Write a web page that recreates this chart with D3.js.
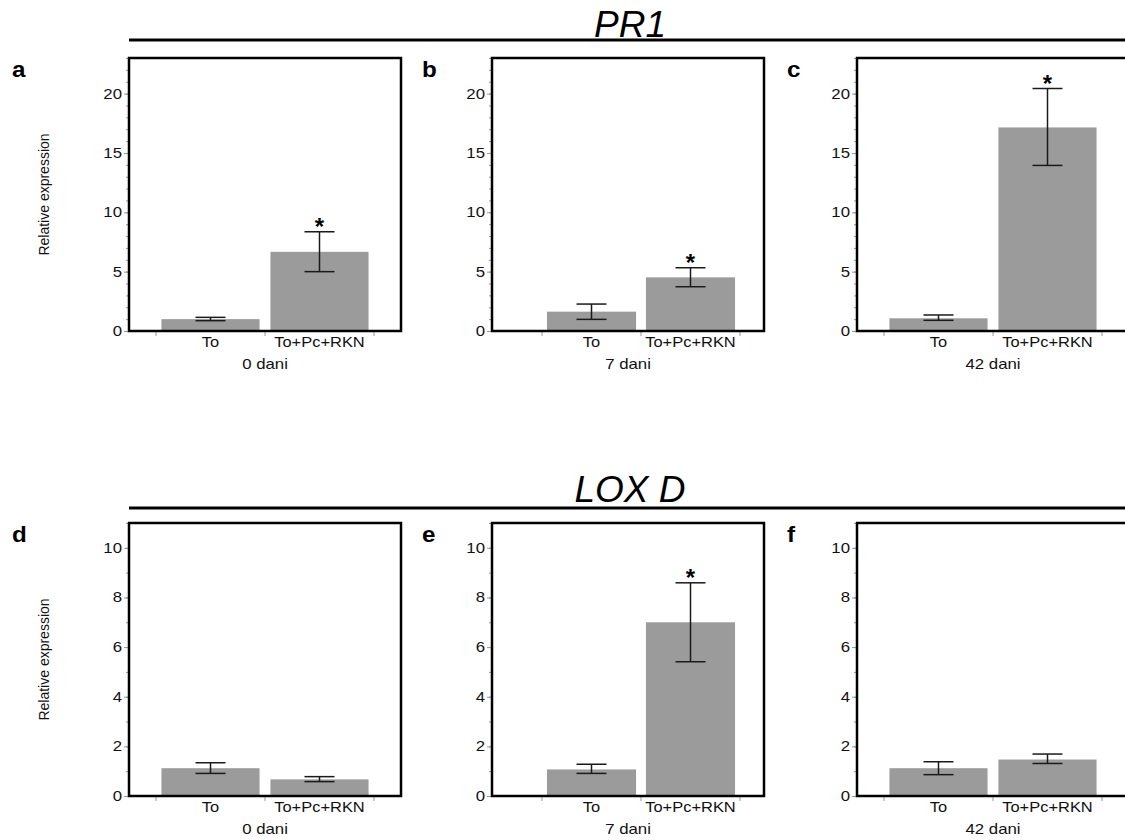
<!DOCTYPE html>
<html lang="en">
<head>
    <meta charset="UTF-8">
    <title>PR1 / LOX D relative expression</title>
    <script src="https://cdn.jsdelivr.net/npm/d3@7"></script>
</head>
<style>
    body { margin: 0; background: #fff; }
    svg { font-family: "Liberation Sans", Arial, sans-serif; }
    .frame { fill: none; stroke: #000; stroke-width: 2.5px; }
    .bar { fill: #9b9b9b; }
    .err { stroke: #1a1a1a; stroke-width: 1.5px; }
    .tick-mark { stroke: #999; stroke-width: 1px; }
</style>
<body>
    <div id="graphDiv"></div>

    <script>
        // data
        const groups = ["To", "To+Pc+RKN"];
        const days = ["0 dani", "7 dani", "42 dani"];
        const genes = ["PR1", "LOX D"];
        const letters = [["a", "b", "c"], ["d", "e", "f"]];

        const pr1Mean = [[1.0, 6.67], [1.63, 4.52], [1.07, 17.15]];
        const pr1Low  = [[0.87, 5.0], [0.98, 3.73], [0.9, 13.95]];
        const pr1High = [[1.15, 8.36], [2.27, 5.33], [1.35, 20.43]];
        const pr1Sig  = [[false, true], [false, true], [false, true]];
        const pr1Ticks = [0, 5, 10, 15, 20];

        const loxMean = [[1.12, 0.67], [1.07, 7.0], [1.12, 1.47]];
        const loxLow  = [[0.91, 0.58], [0.91, 5.41], [0.86, 1.31]];
        const loxHigh = [[1.34, 0.78], [1.28, 8.59], [1.38, 1.69]];
        const loxSig  = [[false, false], [false, true], [false, false]];
        const loxTicks = [0, 2, 4, 6, 8, 10];

        const rows = [
            {gene: genes[0], mean: pr1Mean, low: pr1Low, high: pr1High, sig: pr1Sig, ticks: pr1Ticks, yMax: 23},
            {gene: genes[1], mean: loxMean, low: loxLow, high: loxHigh, sig: loxSig, ticks: loxTicks, yMax: 11}
        ];

        // layout
        const width = 1125, height = 840;
        const frameLeft = [129, 492, 857];
        const frameWidth = 272;
        const rowTop = [58, 523];
        const rowBottom = [331, 796];
        const titleY = [37, 502];
        const ruleY = [40, 508];
        const bandRange = [[27, 245], [50, 248], [27, 245]];
        const letterX = [12, 422, 787];
        const sx = 1.2; // the source figure is stretched sideways

        const svg = d3.select("#graphDiv").append("svg")
            .attr("width", width)
            .attr("height", height);

        rows.forEach((row, r) => {
            // gene title and rule
            svg.append("text")
                .attr("x", 630)
                .attr("y", titleY[r])
                .attr("text-anchor", "middle")
                .style("font-size", "37px")
                .style("font-style", "italic")
                .text(row.gene);

            svg.append("line")
                .attr("x1", 129).attr("x2", width)
                .attr("y1", ruleY[r]).attr("y2", ruleY[r])
                .attr("stroke", "#000")
                .attr("stroke-width", 3);

            const y = d3.scaleLinear()
                .domain([0, row.yMax])
                .range([rowBottom[r], rowTop[r]]);

            days.forEach((day, p) => {
                const left = frameLeft[p];
                const g = svg.append("g");

                const x = d3.scaleBand()
                    .domain(groups)
                    .range([left + bandRange[p][0], left + bandRange[p][1]])
                    .paddingInner(0.1)
                    .paddingOuter(0.05);

                // minor y ticks
                g.append("g")
                    .attr("transform", `translate(${left},0)`)
                    .call(d3.axisLeft(y).tickValues(d3.range(0, row.yMax + 1)).tickSize(3).tickFormat(""))
                    .call(a => a.select(".domain").remove())
                    .call(a => a.selectAll("line").attr("class", "tick-mark"));

                // major y ticks
                const yAxis = g.append("g")
                    .attr("transform", `translate(${left},0)`)
                    .call(d3.axisLeft(y).tickValues(row.ticks).tickSize(5))
                    .call(a => a.select(".domain").remove())
                    .call(a => a.selectAll("line").attr("class", "tick-mark"));
                yAxis.selectAll("text")
                    .attr("x", -7 / sx)
                    .attr("transform", `scale(${sx},1)`)
                    .style("font-size", "14px")
                    .style("font-family", "Liberation Sans, Arial, sans-serif")
                    .attr("fill", "#111");

                // x tick marks at band edges
                const edges = d3.range(0, groups.length + 1).map(i => x.range()[0] + i * x.step());
                g.selectAll(".xedge")
                    .data(edges)
                    .join("line")
                    .attr("class", "tick-mark")
                    .attr("x1", d => d).attr("x2", d => d)
                    .attr("y1", rowBottom[r] - 1).attr("y2", rowBottom[r] + 5);

                // bars
                g.selectAll(".bar")
                    .data(groups)
                    .join("rect")
                    .attr("class", "bar")
                    .attr("x", d => x(d))
                    .attr("y", (d, i) => y(row.mean[p][i]))
                    .attr("width", x.bandwidth())
                    .attr("height", (d, i) => y(0) - y(row.mean[p][i]));

                // error bars
                groups.forEach((grp, i) => {
                    const cx = x(grp) + x.bandwidth() / 2;
                    const eb = g.append("g").attr("class", "err");
                    eb.append("line")
                        .attr("x1", cx).attr("x2", cx)
                        .attr("y1", y(row.low[p][i])).attr("y2", y(row.high[p][i]));
                    [row.low[p][i], row.high[p][i]].forEach(v => {
                        eb.append("line")
                            .attr("x1", cx - 15).attr("x2", cx + 15)
                            .attr("y1", y(v)).attr("y2", y(v));
                    });
                    if (row.sig[p][i]) {
                        g.append("text")
                            .attr("x", cx)
                            .attr("y", y(row.high[p][i]) + 3)
                            .attr("text-anchor", "middle")
                            .style("font-size", "24px")
                            .style("font-weight", "bold")
                            .text("*");
                    }
                });

                // frame
                g.append("rect")
                    .attr("class", "frame")
                    .attr("x", left)
                    .attr("y", rowTop[r])
                    .attr("width", frameWidth)
                    .attr("height", rowBottom[r] - rowTop[r]);

                // category labels
                groups.forEach(grp => {
                    g.append("text")
                        .attr("transform", `translate(${x(grp) + x.bandwidth() / 2},${rowBottom[r] + 16}) scale(${sx * 0.98},1)`)
                        .attr("text-anchor", "middle")
                        .style("font-size", "14px")
                        .attr("fill", "#111")
                        .text(grp);
                });

                // day label
                g.append("text")
                    .attr("transform", `translate(${left + frameWidth / 2},${rowBottom[r] + 38}) scale(${sx},1)`)
                    .attr("text-anchor", "middle")
                    .style("font-size", "14px")
                    .attr("fill", "#111")
                    .text(day);

                // panel letter
                g.append("text")
                    .attr("transform", `translate(${letterX[p]},${rowTop[r] + 19}) scale(1.1,1)`)
                    .style("font-size", "22px")
                    .style("font-weight", "bold")
                    .text(letters[r][p]);

                // y label on first panel of the row
                if (p === 0) {
                    svg.append("text")
                        .attr("text-anchor", "middle")
                        .attr("transform", `translate(49,${(rowTop[r] + rowBottom[r]) / 2}) rotate(-90)`)
                        .style("font-size", "14px")
                        .attr("fill", "#111")
                        .text("Relative expression");
                }
            });
        });
    </script>
</body>
</html>
